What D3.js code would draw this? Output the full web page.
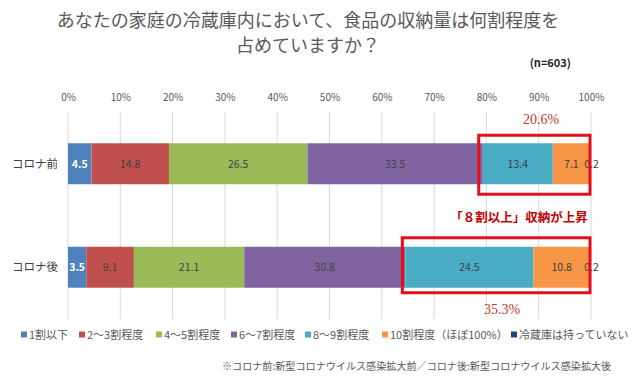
<!DOCTYPE html>
<html><head><meta charset="utf-8">
<script src="https://cdn.jsdelivr.net/npm/d3@7/dist/d3.min.js"></script>
<style>
body{margin:0;background:#fff;}
svg{display:block;font-family:"Noto Sans CJK JP","Noto Sans",sans-serif;}
</style></head>
<body>
<svg id="c" width="640" height="381"></svg>
<script>
const categories = ["コロナ前", "コロナ後"];
const seriesNames = ["1割以下", "2～3割程度", "4～5割程度", "6～7割程度", "8～9割程度", "10割程度（ほぼ100%）", "冷蔵庫は持っていない"];
const valuesBefore = [4.5, 14.8, 26.5, 33.5, 13.4, 7.1, 0.2];
const valuesAfter = [3.5, 9.1, 21.1, 30.8, 24.5, 10.8, 0.2];
const tickValues = [0, 10, 20, 30, 40, 50, 60, 70, 80, 90, 100];
const colors = ["#4F81BD", "#C0504D", "#9BBB59", "#8064A2", "#4BACC6", "#F79646", "#1F497D"];
const highlightTotals = ["20.6%", "35.3%"];
const titleLines = ["あなたの家庭の冷蔵庫内において、食品の収納量は何割程度を", "占めていますか？"];

const svg = d3.select("#c");
const x = d3.scaleLinear().domain([0, 100]).range([68, 591]);
const y = d3.scaleBand().domain(categories).range([112, 319]).paddingInner(0.604).paddingOuter(0.302);

// title
svg.append("g").selectAll("text").data(titleLines).join("text")
  .attr("x", 308).attr("y", (d, i) => 27 + i * 25)
  .attr("text-anchor", "middle").attr("font-size", 18).attr("fill", "#595959")
  .text(d => d);
svg.append("text").attr("x", 571).attr("y", 67).attr("text-anchor", "end")
  .attr("font-size", 11).attr("font-weight", "bold").attr("fill", "#262626").text("(n=603)");

// gridlines
svg.append("g").selectAll("line").data(tickValues).join("line")
  .attr("x1", d => x(d)).attr("x2", d => x(d)).attr("y1", 112).attr("y2", 319)
  .attr("stroke", "#d9d9d9").attr("stroke-width", 1);

// top axis labels
const axis = d3.axisTop(x).tickValues(tickValues).tickFormat(d => d + "%").tickSize(0).tickPadding(0);
const ag = svg.append("g").attr("transform", "translate(0,101)").call(axis);
ag.select(".domain").remove();
ag.selectAll("text").attr("font-size", 10).attr("fill", "#595959").attr("font-family", "'Noto Sans CJK JP',sans-serif");

// category labels
svg.append("g").selectAll("text").data(categories).join("text")
  .attr("x", 58).attr("y", d => y(d) + y.bandwidth() / 2 + 4)
  .attr("text-anchor", "end").attr("font-size", 11.5).attr("fill", "#404040").text(d => d);

// stacked bars
const rows = [valuesBefore, valuesAfter].map((vals, r) => {
  let cum = 0;
  return vals.map((v, i) => { const s = { cat: categories[r], i, v, x0: cum, x1: cum + v }; cum += v; return s; });
});
const bg = svg.append("g");
rows.forEach(row => {
  bg.append("g").selectAll("rect").data(row).join("rect")
    .attr("x", d => x(d.x0)).attr("y", d => y(d.cat))
    .attr("width", d => x(d.x1) - x(d.x0)).attr("height", y.bandwidth())
    .attr("fill", d => colors[d.i]);
  bg.append("g").selectAll("text").data(row).join("text")
    .attr("x", d => (x(d.x0) + x(d.x1)) / 2 + (d.i === 6 ? 1 : 0))
    .attr("y", d => y(d.cat) + y.bandwidth() / 2 + 4)
    .attr("text-anchor", "middle").attr("font-size", 10.5)
    .attr("fill", d => d.i === 0 ? "#ffffff" : "#404040")
    .attr("font-weight", d => d.i === 0 ? "bold" : "normal")
    .text(d => d.v.toFixed(1));
});

// highlight boxes around 8割以上
const boxPad = [{ l: 4, t: 8, b: 10 }, { l: 3, t: 9, b: 5 }];
rows.forEach((row, r) => {
  const start = row[4].x0;
  const p = boxPad[r];
  svg.append("rect")
    .attr("x", x(start) - p.l).attr("y", y(row[0].cat) - p.t)
    .attr("width", x(100) - 1 - (x(start) - p.l)).attr("height", y.bandwidth() + p.t + p.b)
    .attr("fill", "none").attr("stroke", "#e3101b").attr("stroke-width", 3);
});
svg.append("text").attr("x", 541).attr("y", 124).attr("text-anchor", "middle")
  .attr("font-size", 14).attr("fill", "#c0392b").attr("font-family", "'Liberation Serif',serif").text(highlightTotals[0]);
svg.append("text").attr("x", 502).attr("y", 314).attr("text-anchor", "middle")
  .attr("font-size", 14).attr("fill", "#c0392b").attr("font-family", "'Liberation Serif',serif").text(highlightTotals[1]);
svg.append("text").attr("x", 519).attr("y", 222).attr("text-anchor", "middle")
  .attr("font-size", 12.5).attr("font-weight", "bold").attr("fill", "#c00000").text("「８割以上」収納が上昇");

// legend
const legendX = [21, 79, 156, 231, 305, 382, 511];
const lg = svg.append("g").selectAll("g").data(seriesNames).join("g")
  .attr("transform", (d, i) => `translate(${legendX[i]},335)`);
lg.append("rect").attr("x", 0).attr("y", -3.5).attr("width", 6).attr("height", 6).attr("fill", (d, i) => colors[i]);
lg.append("text").attr("x", 8).attr("y", 4).attr("font-size", 11).attr("fill", "#595959").text(d => d);

// footnote
svg.append("text").attr("x", 222).attr("y", 370).attr("font-size", 10.1).attr("fill", "#595959")
  .text("※コロナ前:新型コロナウイルス感染拡大前／コロナ後:新型コロナウイルス感染拡大後");
</script>
</body></html>
